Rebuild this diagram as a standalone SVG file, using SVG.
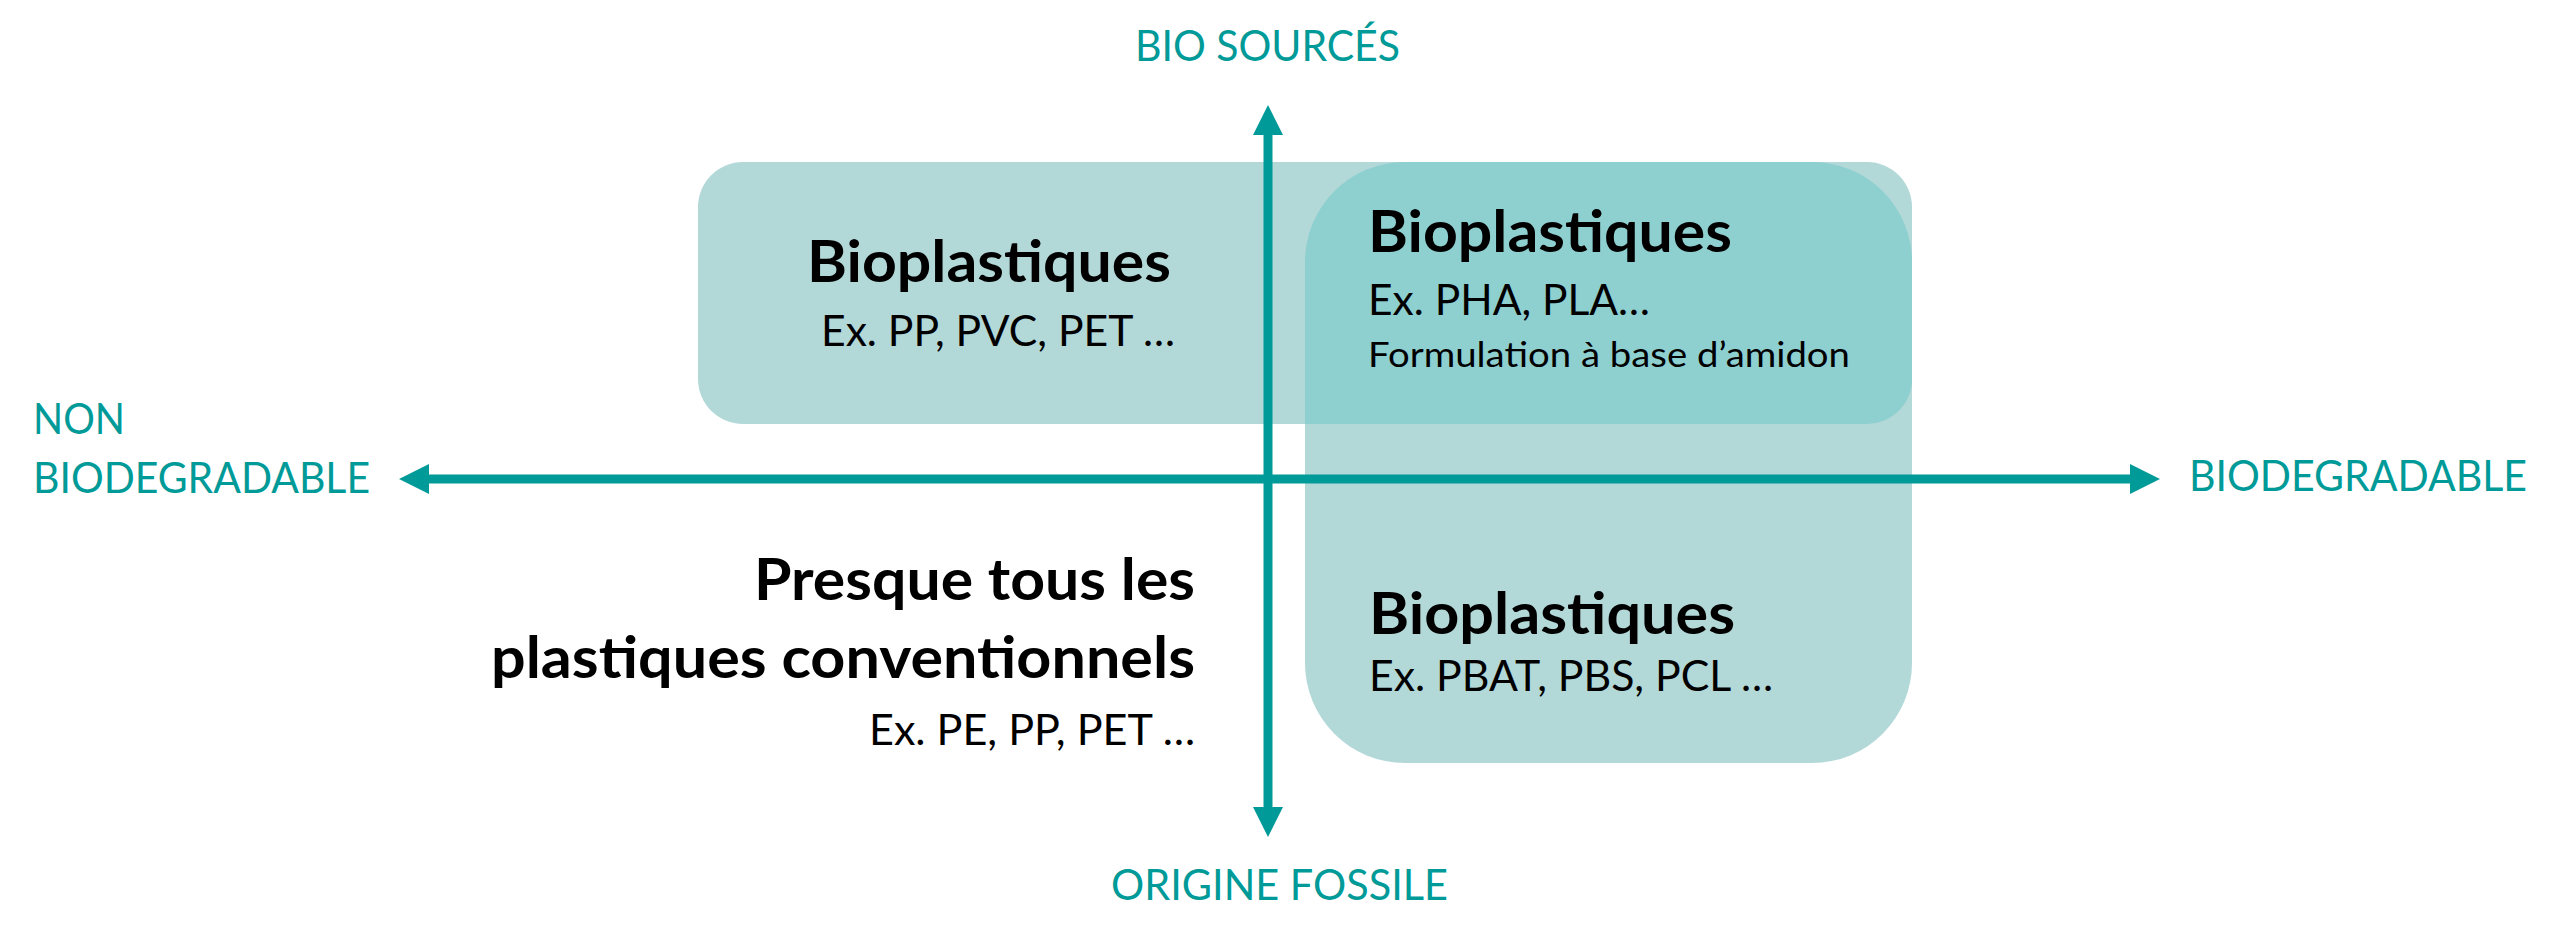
<svg xmlns="http://www.w3.org/2000/svg" width="2560" height="943" viewBox="0 0 2560 943">
  <style>
    .box { fill: #B3D8D8; }
    .overlap { fill: #8ECFD0; }
    .axis { stroke: #009A98; stroke-width: 9; fill: none; }
    .title { font-family: Lato, "Open Sans", "Liberation Sans", sans-serif; font-weight: 700; font-size: 58px; fill: #000; }
    .sub { font-family: Lato, "Open Sans", "Liberation Sans", sans-serif; font-weight: 400; font-size: 43px; fill: #000; }
    .small { font-family: Lato, "Open Sans", "Liberation Sans", sans-serif; font-weight: 400; font-size: 35px; fill: #000; }
    .label { font-family: Lato, "Open Sans", "Liberation Sans", sans-serif; font-weight: 400; font-size: 43px; fill: #009A98; }
  </style>
  <defs>
    <marker id="head" markerUnits="userSpaceOnUse" markerWidth="30" markerHeight="30" viewBox="0 -14 28 28" refX="0" refY="0" orient="auto-start-reverse">
      <path d="M0,-14 L28,0 L0,14 Z" fill="#009A98"/>
    </marker>
    <clipPath id="hclip">
      <rect x="698" y="162" width="1214" height="262" rx="45" ry="45"/>
    </clipPath>
  </defs>

  <g id="regions">
    <rect id="region-biosourced" class="box" x="698" y="162" width="1214" height="262" rx="45" ry="45"/>
    <rect id="region-biodegradable" class="box" x="1305" y="162" width="607" height="601" rx="100" ry="100"/>
    <rect id="region-overlap" class="overlap" x="1305" y="162" width="607" height="601" rx="100" ry="100" clip-path="url(#hclip)"/>
  </g>

  <g id="connectors">
    <line id="axis-vertical" class="axis" x1="1268" y1="807" x2="1268" y2="135" marker-start="url(#head)" marker-end="url(#head)"/>
    <line id="axis-horizontal" class="axis" x1="429" y1="479" x2="2130" y2="479" marker-start="url(#head)" marker-end="url(#head)"/>
  </g>

  <g id="label-bio-sources">
    <text class="label" x="1135" y="61" textLength="265" lengthAdjust="spacingAndGlyphs">BIO SOURCÉS</text>
  </g>
  <g id="label-origine-fossile">
    <text class="label" x="1111" y="900" textLength="337" lengthAdjust="spacingAndGlyphs">ORIGINE FOSSILE</text>
  </g>
  <g id="label-non-biodegradable">
    <text class="label" x="33" y="434" textLength="92" lengthAdjust="spacingAndGlyphs">NON</text>
    <text class="label" x="33" y="493" textLength="337" lengthAdjust="spacingAndGlyphs">BIODEGRADABLE</text>
  </g>
  <g id="label-biodegradable">
    <text class="label" x="2189" y="491" textLength="338" lengthAdjust="spacingAndGlyphs">BIODEGRADABLE</text>
  </g>

  <g id="node-biosourced-nonbiodegradable">
    <text class="title" x="807" y="282" textLength="364" lengthAdjust="spacingAndGlyphs">Bioplastiques</text>
    <text class="sub" x="821" y="346" textLength="354" lengthAdjust="spacingAndGlyphs">Ex. PP, PVC, PET …</text>
  </g>
  <g id="node-biosourced-biodegradable">
    <text class="title" x="1368" y="252" textLength="364" lengthAdjust="spacingAndGlyphs">Bioplastiques</text>
    <text class="sub" x="1368" y="315" textLength="282" lengthAdjust="spacingAndGlyphs">Ex. PHA, PLA…</text>
    <text class="small" x="1368" y="367" textLength="482" lengthAdjust="spacingAndGlyphs">Formulation à base d’amidon</text>
  </g>
  <g id="node-fossile-biodegradable">
    <text class="title" x="1369" y="634" textLength="366" lengthAdjust="spacingAndGlyphs">Bioplastiques</text>
    <text class="sub" x="1369" y="691" textLength="404" lengthAdjust="spacingAndGlyphs">Ex. PBAT, PBS, PCL …</text>
  </g>
  <g id="node-fossile-nonbiodegradable">
    <text class="title" x="754" y="600" textLength="441" lengthAdjust="spacingAndGlyphs">Presque tous les</text>
    <text class="title" x="491" y="678" textLength="704" lengthAdjust="spacingAndGlyphs">plastiques conventionnels</text>
    <text class="sub" x="869" y="745" textLength="326" lengthAdjust="spacingAndGlyphs">Ex. PE, PP, PET …</text>
  </g>
</svg>
